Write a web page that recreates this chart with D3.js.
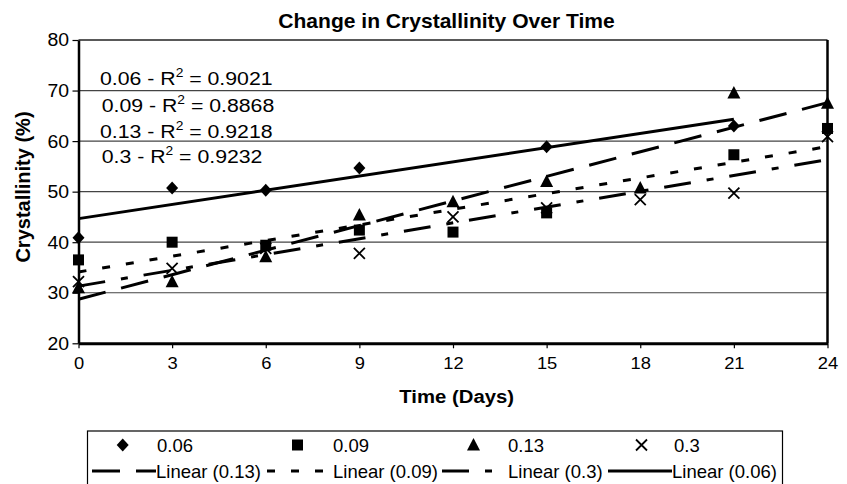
<!DOCTYPE html>
<html>
<head>
<meta charset="utf-8">
<script src="https://cdn.jsdelivr.net/npm/d3@7"></script>
<style>
  body { margin: 0; background: #fff; }
  svg { display: block; font-family: "Liberation Sans", Arial, Helvetica, sans-serif; }
</style>
</head>
<body>
<svg id="chart" width="847" height="484"></svg>
<script>
// data
const days = [0, 3, 6, 9, 12, 15, 18, 21, 24];
const yTicks = [20, 30, 40, 50, 60, 70, 80];
const gridValues = [30, 40, 50, 60, 70];

const x006 = [0, 3, 6, 9, 15, 21];
const y006 = [40.9, 50.7, 50.3, 54.7, 58.9, 63.0];
const x009 = [0, 3, 6, 9, 12, 15, 21, 24];
const y009 = [36.5, 40.0, 39.4, 42.4, 42.0, 45.8, 57.3, 62.5];
const x013 = [0, 3, 6, 9, 12, 15, 18, 21, 24];
const y013 = [31.0, 32.2, 37.1, 45.4, 48.0, 52.0, 50.7, 69.5, 67.5];
const x03 = [0, 3, 6, 9, 12, 15, 18, 21, 24];
const y03 = [32.2, 34.8, 38.8, 37.8, 45.0, 46.8, 48.4, 49.7, 60.9];

const seriesNames = ["0.06", "0.09", "0.13", "0.3"];
const r2Values = ["0.9021", "0.8868", "0.9218", "0.9232"];
const trendOrder = ["0.13", "0.09", "0.3", "0.06"]; // legend row 2 order

const svg = d3.select("#chart");
const x = d3.scaleLinear().domain([0, 24]).range([78.5, 827.5]);
const y = d3.scaleLinear().domain([20, 80]).range([343.3, 40]);

// styles per series (marker + trendline dash)
const style = {
  "0.06": { xs: x006, ys: y006, marker: "diamond", dash: null },
  "0.09": { xs: x009, ys: y009, marker: "square", dash: "8,16" },
  "0.13": { xs: x013, ys: y013, marker: "triangle", dash: "28,16" },
  "0.3": { xs: x03, ys: y03, marker: "cross", dash: "27,16,7,16" },
};

function markerPath(kind) {
  if (kind === "diamond") return "M0,-6.5L6,0L0,6.5L-6,0Z";
  if (kind === "square") return "M-5.5,-5.5H5.5V5.5H-5.5Z";
  if (kind === "triangle") return "M0,-7L6.5,5.5L-6.5,5.5Z";
  return "M-5.5,-5.5L5.5,5.5M5.5,-5.5L-5.5,5.5";
}
function drawMarker(g, kind, px, py) {
  const p = g.append("path").attr("d", markerPath(kind))
    .attr("transform", `translate(${px},${py})`);
  if (kind === "cross") p.attr("fill", "none").attr("stroke", "#000").attr("stroke-width", 1.8);
  else p.attr("fill", "#000");
}

// linear regression for trendlines
function fit(xs, ys) {
  const mx = d3.mean(xs), my = d3.mean(ys);
  const sxy = d3.sum(xs, (v, i) => (v - mx) * (ys[i] - my));
  const sxx = d3.sum(xs, v => (v - mx) * (v - mx));
  const b = sxy / sxx;
  return { a: my - b * mx, b: b };
}

// gridlines
svg.append("g").selectAll("line").data(gridValues).enter().append("line")
  .attr("x1", x(0)).attr("x2", x(24))
  .attr("y1", d => y(d)).attr("y2", d => y(d))
  .attr("stroke", "#444").attr("stroke-width", 1.2);

// top and right border
svg.append("line").attr("x1", x(0)).attr("x2", x(24)).attr("y1", y(80)).attr("y2", y(80))
  .attr("stroke", "#222").attr("stroke-width", 1.5);
svg.append("line").attr("x1", x(24)).attr("x2", x(24)).attr("y1", y(80)).attr("y2", y(20))
  .attr("stroke", "#000").attr("stroke-width", 2.5);

// axes
const xAxis = svg.append("g").attr("transform", `translate(0,${y(20)})`)
  .call(d3.axisBottom(x).tickValues(days).tickSize(5).tickSizeOuter(0).tickPadding(9));
xAxis.select(".domain").attr("stroke-width", 3);
xAxis.selectAll(".tick line").attr("stroke-width", 1.2);
xAxis.selectAll(".tick text").attr("font-size", 17).attr("fill", "#000")
  .attr("font-family", "Liberation Sans, Arial, sans-serif")
  .attr("transform", "scale(1.08,1)");

const yAxis = svg.append("g").attr("transform", `translate(${x(0)},0)`)
  .call(d3.axisLeft(y).tickValues(yTicks).tickSize(6).tickSizeOuter(0).tickPadding(3));
yAxis.select(".domain").attr("stroke-width", 2.5);
yAxis.selectAll(".tick line").attr("stroke-width", 1.2);
yAxis.selectAll(".tick text").attr("font-size", 18.5).attr("fill", "#000")
  .attr("font-family", "Liberation Sans, Arial, sans-serif")
  .attr("transform", "scale(1.05,1)");

// trendlines
const lines = svg.append("g");
seriesNames.forEach(name => {
  const s = style[name];
  const f = fit(s.xs, s.ys);
  const x0 = d3.min(s.xs), x1 = d3.max(s.xs);
  const l = lines.append("line")
    .attr("x1", x(x0)).attr("y1", y(f.a + f.b * x0))
    .attr("x2", x(x1)).attr("y2", y(f.a + f.b * x1))
    .attr("stroke", "#000").attr("stroke-width", 3);
  if (s.dash) l.attr("stroke-dasharray", s.dash);
});

// markers
const marks = svg.append("g");
seriesNames.forEach(name => {
  const s = style[name];
  s.xs.forEach((d, i) => drawMarker(marks, s.marker, x(d), y(s.ys[i])));
});

// R² annotations
const ann = svg.append("g").attr("font-size", 18.5);
const annPos = [[100, 85], [101.7, 111.7], [100, 138.3], [101.7, 163.3]];
seriesNames.forEach((name, i) => {
  const t = ann.append("text")
    .attr("transform", `translate(${annPos[i][0]},${annPos[i][1]}) scale(1.15,1)`);
  t.append("tspan").text(name + " - R");
  t.append("tspan").attr("font-size", 12).attr("dy", -8).text("2");
  t.append("tspan").attr("dy", 8).text(" = " + r2Values[i]);
});

// titles
svg.append("text").attr("transform", "translate(446.5,28) scale(1.08,1)")
  .attr("text-anchor", "middle").attr("font-weight", "bold").attr("font-size", 19.5)
  .text("Change in Crystallinity Over Time");
svg.append("text").attr("transform", "translate(456.7,403) scale(1.07,1)")
  .attr("text-anchor", "middle").attr("font-weight", "bold").attr("font-size", 19)
  .text("Time (Days)");
svg.append("text").attr("transform", "translate(30,187) rotate(-90)")
  .attr("text-anchor", "middle").attr("font-weight", "bold").attr("font-size", 20)
  .text("Crystallinity (%)");

// legend
const legend = svg.append("g");
legend.append("rect").attr("x", 87.5).attr("y", 431).attr("width", 695).attr("height", 80)
  .attr("fill", "#fff").attr("stroke", "#000").attr("stroke-width", 1.2);
const row1Mark = [122.7, 297.5, 473.5, 641.5];
const row1Text = [157, 333, 508, 674];
seriesNames.forEach((name, i) => {
  drawMarker(legend, style[name].marker, row1Mark[i], 445);
  legend.append("text").attr("x", row1Text[i]).attr("y", 452)
    .attr("font-size", 18.5).text(name);
});
const row2Line = [[92, 156], [267, 331], [442, 506], [608, 672]];
const row2Text = [156, 333, 508, 672];
trendOrder.forEach((name, i) => {
  const l = legend.append("line")
    .attr("x1", row2Line[i][0]).attr("x2", row2Line[i][1])
    .attr("y1", 471).attr("y2", 471)
    .attr("stroke", "#000").attr("stroke-width", 3);
  if (style[name].dash) l.attr("stroke-dasharray", style[name].dash);
  legend.append("text").attr("x", row2Text[i]).attr("y", 478)
    .attr("font-size", 18.5).text("Linear (" + name + ")");
});
</script>
</body>
</html>
